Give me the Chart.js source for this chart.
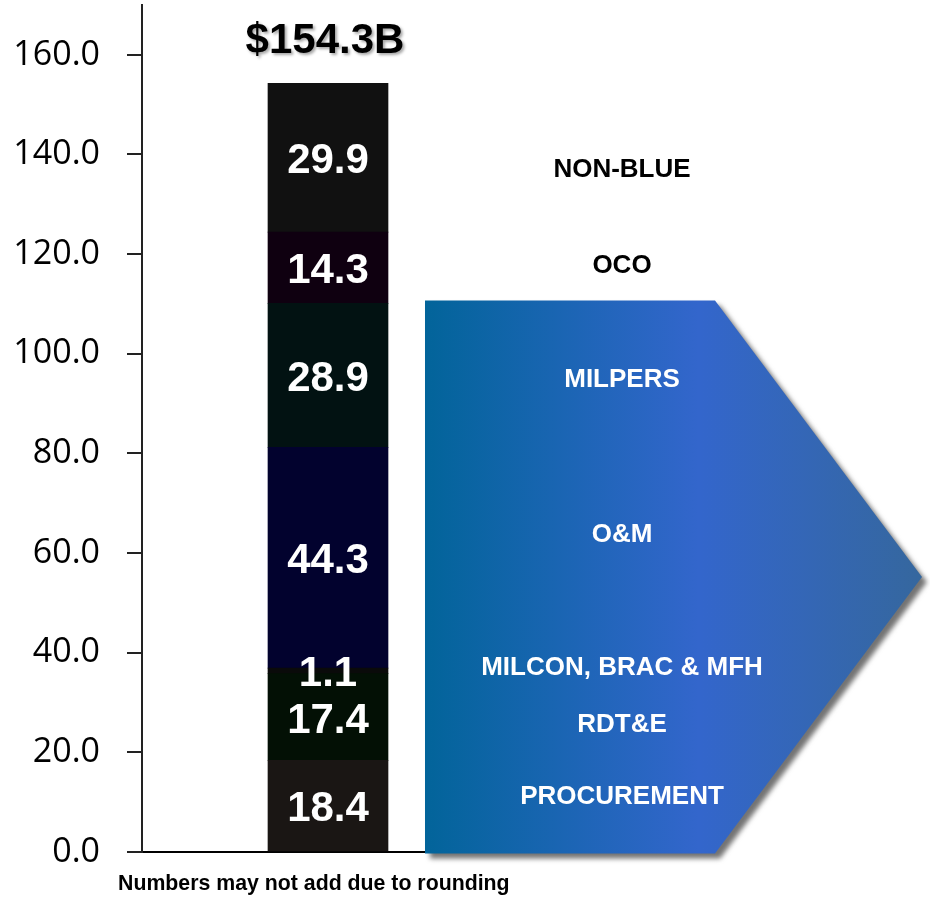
<!DOCTYPE html>
<html>
<head>
<meta charset="utf-8">
<script src="https://cdn.jsdelivr.net/npm/chart.js@4/dist/chart.umd.min.js"></script>
<style>
  html, body { margin: 0; padding: 0; background: #fff; }
  #wrap { width: 930px; height: 898px; position: relative; }
</style>
</head>
<body>
<div id="wrap"><canvas id="budgetChart"></canvas></div>
<script>
// chart data
const categories = ['Total'];
const seriesNames = ['PROCUREMENT', 'RDT&E', 'MILCON, BRAC & MFH', 'O&M', 'MILPERS', 'OCO', 'NON-BLUE'];
const seriesValues = [18.4, 17.4, 1.1, 44.3, 28.9, 14.3, 29.9];
const seriesColors = ['#1a1614', '#031005', '#0a0a0a', '#02022e', '#021212', '#0f0010', '#111111'];
// where the names on the right sit, in axis units
const sideLabelAt = [11.0, 25.5, 36.9, 63.6, 94.8, 117.7, 137.0];
const blueCount = 5;            // first five series sit inside the blue arrow
const totalValue = 154.3;
const totalLabel = '$154.3B';
const yTicks = [0, 20, 40, 60, 80, 100, 120, 140, 160];
const yMax = 170;
const footNote = 'Numbers may not add due to rounding';

function bold(size) { return 'bold ' + size + 'px "Liberation Sans", Arial, sans-serif'; }

const decorPlugin = {
  id: 'decor',
  afterDraw(chart) {
    const ctx = chart.ctx;
    const y = chart.scales.y;
    const metas = chart.getSortedVisibleDatasetMetas();
    const firstBar = metas[0].data[0];
    const barRight = firstBar.x + firstBar.width / 2;

    // blue arrow behind the "blue" items
    let blueTop = 0;
    for (let i = 0; i < blueCount; i++) blueTop += seriesValues[i];
    const top = y.getPixelForValue(blueTop) - 3;
    const bottom = y.getPixelForValue(0) + 1.5;
    const left = barRight + 37;
    const corner = left + 290;
    const tip = 922;
    const mid = (top + bottom) / 2;

    ctx.save();
    ctx.beginPath();
    ctx.moveTo(left, top);
    ctx.lineTo(corner, top);
    ctx.lineTo(tip, mid);
    ctx.lineTo(corner, bottom);
    ctx.lineTo(left, bottom);
    ctx.closePath();
    const grad = ctx.createLinearGradient(left, 0, tip, 0);
    grad.addColorStop(0, '#02649a');
    grad.addColorStop(0.55, '#3366cc');
    grad.addColorStop(1, '#35679e');
    ctx.fillStyle = grad;
    ctx.shadowColor = 'rgba(80,80,80,0.8)';
    ctx.shadowBlur = 5;
    ctx.shadowOffsetX = 5;
    ctx.shadowOffsetY = 5;
    ctx.fill();
    ctx.restore();

    // values inside the bar
    ctx.save();
    ctx.textAlign = 'center';
    ctx.textBaseline = 'middle';
    ctx.fillStyle = '#ffffff';
    ctx.font = bold(42);
    metas.forEach((meta, i) => {
      const el = meta.data[0];
      ctx.fillText(seriesValues[i].toFixed(1), el.x, (el.y + el.base) / 2 + 4);
    });

    // names on the right
    ctx.font = bold(26);
    seriesNames.forEach((name, i) => {
      ctx.fillStyle = i < blueCount ? '#ffffff' : '#000000';
      ctx.fillText(name, 622, y.getPixelForValue(sideLabelAt[i]));
    });

    // total above the bar
    ctx.font = bold(42);
    ctx.textBaseline = 'alphabetic';
    ctx.fillStyle = '#000000';
    ctx.shadowColor = 'rgba(0,0,0,0.35)';
    ctx.shadowBlur = 3;
    ctx.shadowOffsetX = 2;
    ctx.shadowOffsetY = 2;
    ctx.fillText(totalLabel, firstBar.x - 3, y.getPixelForValue(totalValue) - 30);
    ctx.restore();

    // foot note
    ctx.save();
    ctx.font = bold(21.3);
    ctx.textAlign = 'left';
    ctx.textBaseline = 'alphabetic';
    ctx.fillStyle = '#000000';
    ctx.fillText(footNote, 118, 890);
    ctx.restore();
  }
};

const datasets = seriesNames.map((name, i) => ({
  label: name,
  data: [seriesValues[i]],
  backgroundColor: seriesColors[i],
  borderWidth: 0,
  barThickness: 120,
  stack: 'all'
}));

new Chart(document.getElementById('budgetChart'), {
  type: 'bar',
  data: { labels: categories, datasets: datasets },
  options: {
    responsive: true,
    maintainAspectRatio: false,
    animation: false,
    layout: { padding: { left: 13, right: 416, top: 5, bottom: 46 } },
    plugins: {
      legend: { display: false },
      tooltip: { enabled: false }
    },
    scales: {
      x: {
        stacked: true,
        ticks: { display: false },
        grid: { display: false, drawTicks: false },
        border: { display: true, color: '#000', width: 2 }
      },
      y: {
        stacked: true,
        min: 0,
        max: yMax,
        afterBuildTicks: function(scale) {
          scale.ticks = yTicks.map(v => ({ value: v }));
        },
        afterFit: function(scale) {
          scale.width = 129;
          scale.paddingTop = 0;
          scale.paddingBottom = 0;
        },
        ticks: {
          color: '#000',
          padding: 27,
          font: { family: '"Open Sans", sans-serif', size: 34 },
          callback: function(value) { return Number(value).toFixed(1); }
        },
        grid: {
          drawOnChartArea: false,
          tickLength: 15,
          color: '#222',
          lineWidth: 2
        },
        border: { display: true, color: '#222', width: 2 }
      }
    }
  },
  plugins: [decorPlugin]
});
</script>
</body>
</html>
